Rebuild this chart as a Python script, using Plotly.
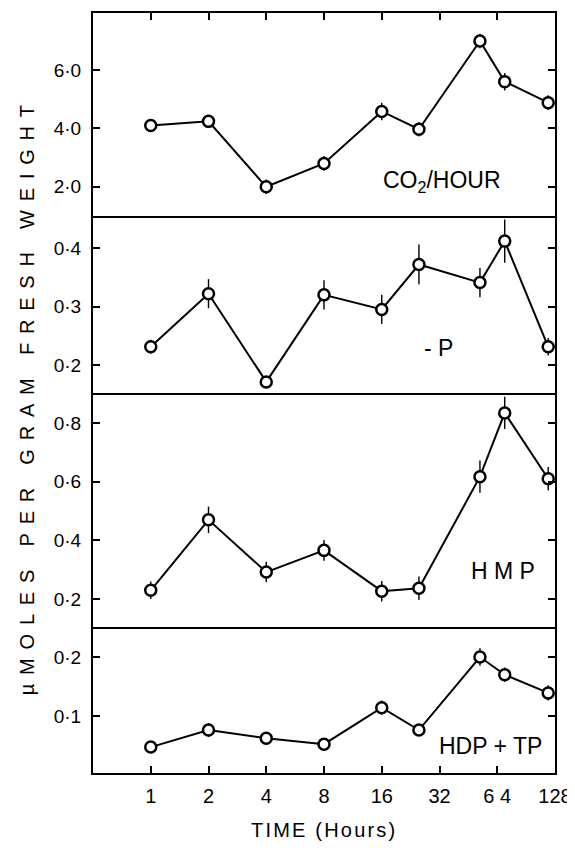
import plotly.graph_objects as go
from plotly.subplots import make_subplots

# ---- data ----
time_h = [1, 2, 4, 8, 16, 25, 52, 70, 118]

co2_hour = [4.1, 4.24, 2.0, 2.8, 4.58, 3.97, 6.99, 5.6, 4.88]
co2_err = [0.15, 0.2, 0.25, 0.25, 0.3, 0.25, 0.25, 0.3, 0.25]

minus_p = [0.231, 0.322, 0.171, 0.32, 0.295, 0.372, 0.341, 0.412, 0.231]
minus_p_err = [0.012, 0.025, 0.007, 0.025, 0.025, 0.034, 0.025, 0.037, 0.015]

hmp = [0.23, 0.47, 0.292, 0.366, 0.227, 0.237, 0.617, 0.834, 0.61]
hmp_err = [0.03, 0.045, 0.035, 0.035, 0.035, 0.04, 0.055, 0.055, 0.04]

hdp_tp = [0.047, 0.076, 0.062, 0.052, 0.114, 0.076, 0.2, 0.17, 0.139]
hdp_tp_err = [0.01, 0.012, 0.01, 0.01, 0.012, 0.01, 0.015, 0.012, 0.013]

x_ticks = [1, 2, 4, 8, 16, 32, 64, 128]
x_ticktext = ["1", "2", "4", "8", "16", "32", "6 4", "128"]

panels = [
    dict(y=co2_hour, err=co2_err, rng=[1.0, 7.95], tv=[2, 4, 6],
         tt=["2·0", "4·0", "6·0"], label="CO<sub>2</sub>/HOUR", lx=0.755, ly=0.172),
    dict(y=minus_p, err=minus_p_err, rng=[0.152, 0.455], tv=[0.2, 0.3, 0.4],
         tt=["0·2", "0·3", "0·4"], label="- P", lx=0.747, ly=0.254),
    dict(y=hmp, err=hmp_err, rng=[0.105, 0.902], tv=[0.2, 0.4, 0.6, 0.8],
         tt=["0·2", "0·4", "0·6", "0·8"], label="H M P", lx=0.887, ly=0.239),
    dict(y=hdp_tp, err=hdp_tp_err, rng=[0.003, 0.251], tv=[0.1, 0.2],
         tt=["0·1", "0·2"], label="HDP + TP", lx=0.861, ly=0.185),
]

FONT = "Liberation Sans"

fig = make_subplots(rows=4, cols=1, shared_xaxes=True, vertical_spacing=0,
                    row_heights=[203, 177, 234, 146])

for i, p in enumerate(panels, start=1):
    fig.add_trace(go.Scatter(
        x=time_h, y=p["y"], mode="lines+markers",
        line=dict(color="black", width=2),
        marker=dict(symbol="circle", size=11, color="white",
                    line=dict(color="black", width=2.5)),
        error_y=dict(type="data", array=p["err"], visible=True,
                     color="black", thickness=1.4, width=0),
        showlegend=False, hoverinfo="skip"), row=i, col=1)
    fig.update_yaxes(row=i, col=1, range=p["rng"], tickvals=p["tv"], ticktext=p["tt"],
                     ticks="inside", ticklen=7, tickwidth=1.5, tickcolor="black",
                     showline=True, linecolor="black", linewidth=2, mirror="ticks",
                     showgrid=False, zeroline=False, ticklabelstandoff=6,
                     automargin=False,
                     tickfont=dict(family=FONT, size=19, color="black"))
    fig.add_annotation(text=p["label"], xref="x domain" if i == 1 else f"x{i} domain",
                       yref="y domain" if i == 1 else f"y{i} domain",
                       x=p["lx"], y=p["ly"], showarrow=False,
                       xanchor="center", yanchor="middle",
                       font=dict(family=FONT, size=23, color="black"))

for i in range(1, 5):
    fig.update_xaxes(row=i, col=1, type="log",
                     range=[-0.30103, 2.10721], tickvals=x_ticks, ticktext=x_ticktext,
                     showline=True, linecolor="black", linewidth=2, mirror=False,
                     showgrid=False, zeroline=False, automargin=False,
                     ticks="", showticklabels=False)

fig.update_xaxes(row=1, col=1, side="top", mirror=True, ticks="inside", ticklen=7,
                 tickwidth=1.5, tickcolor="black")
fig.update_xaxes(row=4, col=1, ticks="inside", ticklen=7, tickwidth=1.5,
                 tickcolor="black", showticklabels=True, ticklabelstandoff=4,
                 tickfont=dict(family=FONT, size=20, color="black"))

fig.add_annotation(
    text='<span style="letter-spacing:8.8px">µMOLES PER GRAM FRESH WEIGHT</span>',
    xref="paper", yref="paper", x=-0.143, y=0.497, textangle=-90, showarrow=False,
    xanchor="center", yanchor="middle",
    font=dict(family=FONT, size=20, color="black"))
fig.add_annotation(
    text='<span style="letter-spacing:2.2px">TIME (Hours)</span>',
    xref="paper", yref="paper", x=0.5, y=-0.075, showarrow=False,
    xanchor="center", yanchor="middle",
    font=dict(family=FONT, size=20, color="black"))

# the page body adds an 8px offset, so the figure is 8px smaller and margins shifted
fig.update_layout(width=567, height=842, margin=dict(l=85, r=20, t=5, b=77),
                  paper_bgcolor="white", plot_bgcolor="white")

fig.write_html("out.html")
